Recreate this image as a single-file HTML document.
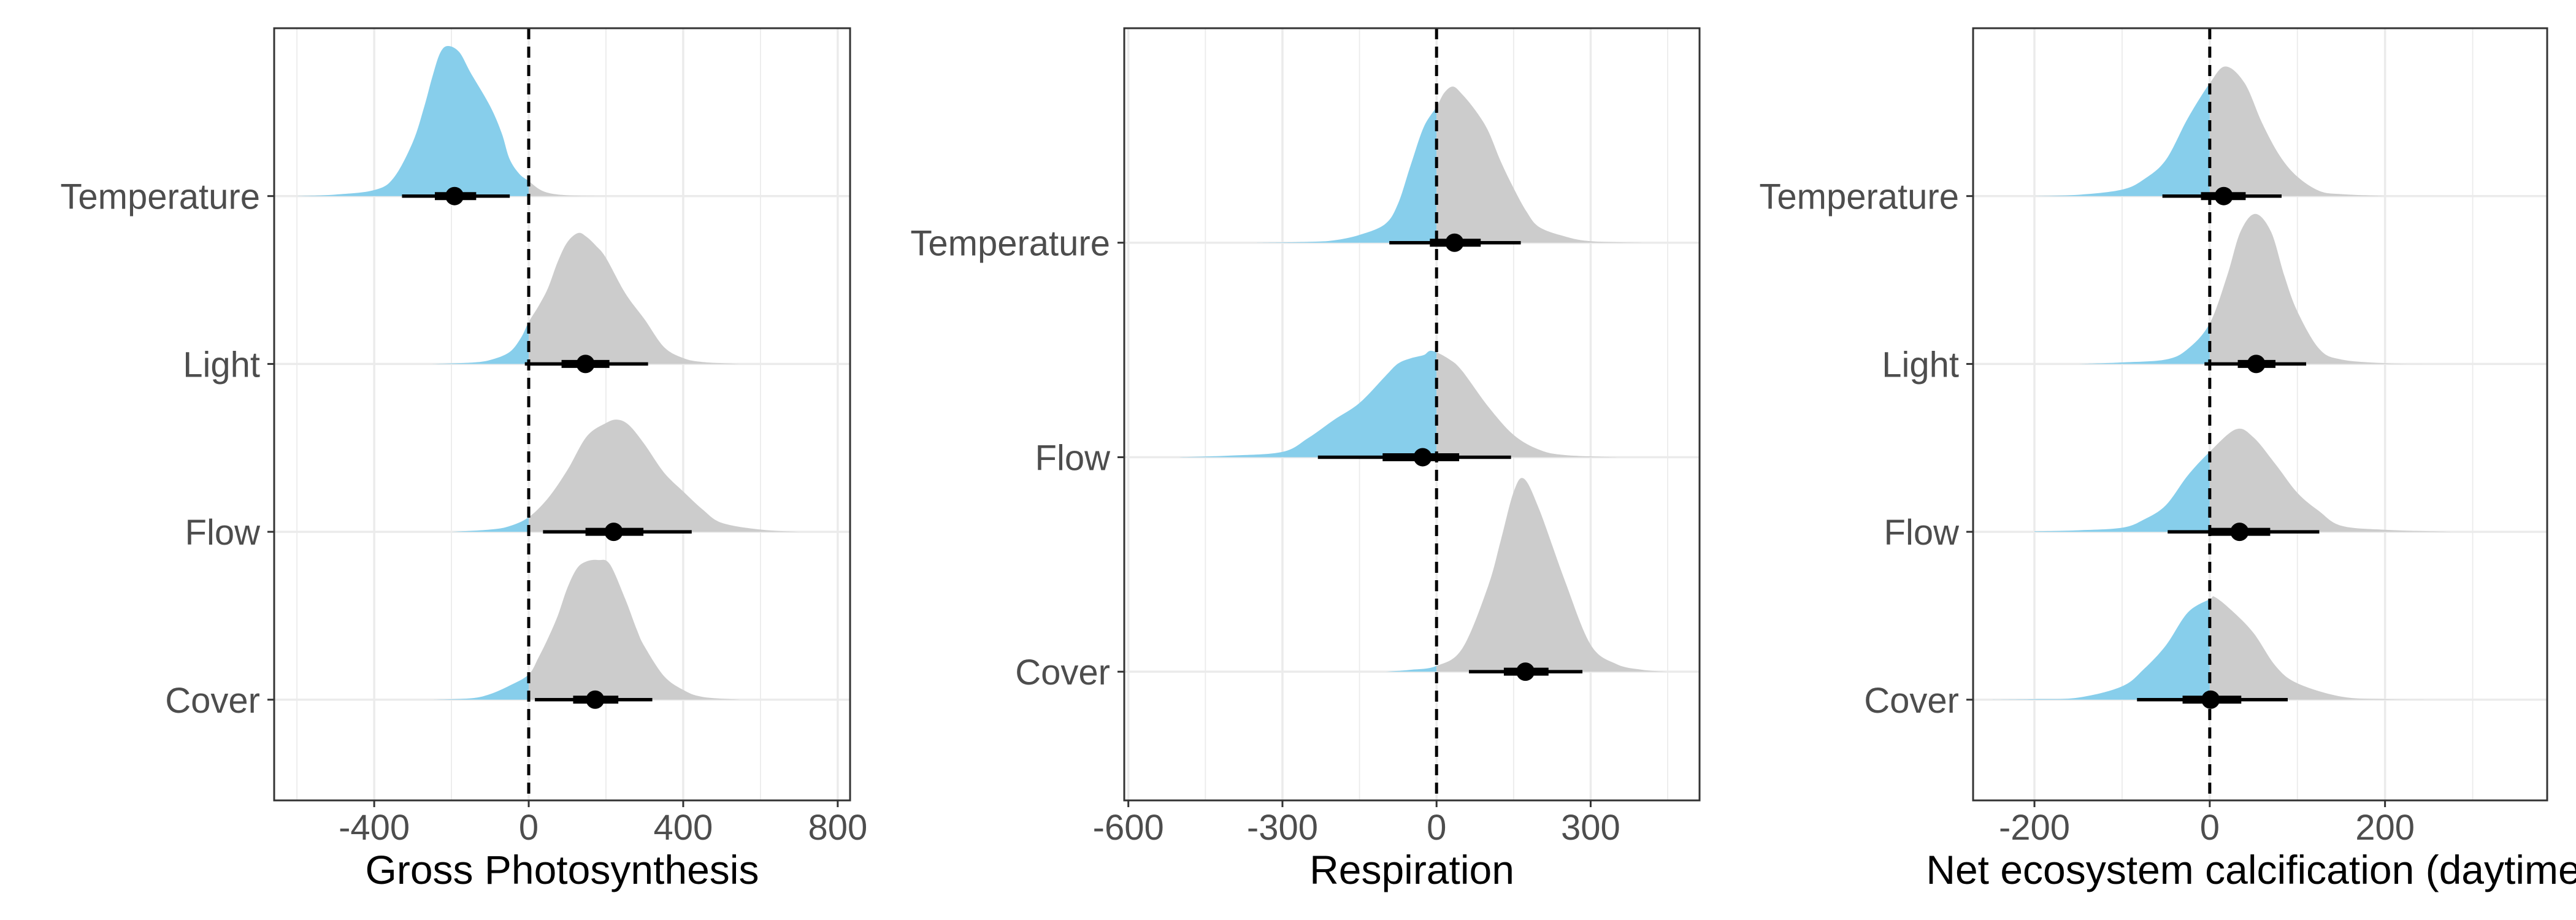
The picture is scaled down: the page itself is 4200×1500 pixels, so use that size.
<!DOCTYPE html>
<html><head><meta charset="utf-8"><style>
html,body{margin:0;padding:0;background:#fff;}
svg{display:block;font-family:"Liberation Sans",sans-serif;}
</style></head><body>
<svg id="chart" width="4200" height="1500" viewBox="0 0 4200 1500" xmlns="http://www.w3.org/2000/svg"></svg>
<script>
// ---------- DATA ----------
const p1Labels = ["Cover","Flow","Light","Temperature"];
const p1Medians = [172, 220, 147, -192];
const p1Lo66 = [115, 147, 85, -243];
const p1Hi66 = [232, 297, 209, -136];
const p1Lo95 = [16, 37, -10, -328];
const p1Hi95 = [320, 422, 309, -49];
const p1Peak = [0.832, 0.668, 0.78, 0.894];
const p1DensX = [
  [-250,-150,-100,-50,0,25,50,75,100,125,150,180,210,250,280,300,350,400,450,550],
  [-200,-100,-50,0,50,100,150,200,230,260,300,350,400,450,500,600,700],
  [-250,-150,-100,-50,-20,0,25,50,75,100,128,150,175,200,250,300,350,400,450,550],
  [-600,-500,-400,-350,-300,-270,-250,-230,-210,-180,-150,-100,-70,-50,-25,0,40,100,200]
];
const p1DensY = [
  [0,0.01,0.04,0.1,0.18,0.3,0.44,0.6,0.8,0.94,0.99,1.0,0.97,0.72,0.5,0.38,0.17,0.07,0.02,0],
  [0,0.02,0.05,0.13,0.3,0.55,0.85,0.97,1.0,0.95,0.78,0.53,0.36,0.2,0.08,0.02,0],
  [0,0.01,0.03,0.09,0.2,0.32,0.44,0.58,0.78,0.93,1.0,0.97,0.9,0.81,0.54,0.34,0.13,0.045,0.015,0],
  [0,0.01,0.04,0.12,0.36,0.6,0.79,0.95,1.0,0.96,0.82,0.6,0.42,0.25,0.15,0.1,0.03,0.005,0]
];
const p1Ticks = [-400, 0, 400, 800];
const p1TickLabels = ["-400","0","400","800"];

const p2Labels = ["Cover","Flow","Temperature"];
const p2Medians = [173, -27, 35];
const p2Lo66 = [131, -105, -13];
const p2Hi66 = [218, 44, 86];
const p2Lo95 = [63, -231, -92];
const p2Hi95 = [284, 145, 164];
const p2Peak = [0.9, 0.496, 0.728];
const p2DensX = [
  [-100,-50,0,50,100,125,150,170,200,250,300,350,400,450],
  [-500,-400,-300,-250,-200,-150,-100,-75,-50,-25,-9,25,50,100,150,200,250,350],
  [-350,-250,-200,-150,-100,-75,-50,-25,0,15,32,50,75,100,125,150,175,200,250,300,400]
];
const p2DensY = [
  [0,0.01,0.03,0.12,0.44,0.68,0.93,1.0,0.84,0.47,0.14,0.04,0.01,0],
  [0,0.015,0.05,0.18,0.35,0.51,0.76,0.88,0.93,0.96,1.0,0.92,0.81,0.48,0.21,0.07,0.02,0],
  [0,0.005,0.015,0.05,0.12,0.25,0.5,0.74,0.87,0.96,1.0,0.95,0.85,0.72,0.52,0.35,0.2,0.1,0.04,0.01,0]
];
const p2Ticks = [-600, -300, 0, 300];
const p2TickLabels = ["-600","-300","0","300"];

const p3Labels = ["Cover","Flow","Light","Temperature"];
const p3Medians = [1, 34, 53, 16];
const p3Lo66 = [-31, 1, 32, -10];
const p3Hi66 = [36, 69, 75, 41];
const p3Lo95 = [-83, -48, -6, -54];
const p3Hi95 = [89, 125, 110, 82];
const p3Peak = [0.611, 0.611, 0.894, 0.772];
const p3DensX = [
  [-250,-200,-150,-100,-75,-50,-25,0,6,25,50,75,100,150,200,250],
  [-200,-150,-100,-75,-50,-25,0,30,50,75,100,125,150,200,275],
  [-150,-100,-50,-25,0,20,35,52,70,85,100,125,150,200,250],
  [-200,-150,-100,-75,-50,-25,0,18,40,60,80,100,125,150,200]
];
const p3DensY = [
  [0,0.005,0.02,0.13,0.3,0.53,0.85,0.98,1.0,0.87,0.65,0.33,0.16,0.03,0.005,0],
  [0.005,0.015,0.04,0.12,0.26,0.55,0.78,1.0,0.92,0.66,0.38,0.2,0.06,0.02,0],
  [0,0.01,0.03,0.1,0.27,0.59,0.88,1.0,0.88,0.59,0.35,0.1,0.03,0.005,0],
  [0,0.01,0.05,0.13,0.28,0.6,0.87,1.0,0.87,0.56,0.31,0.15,0.04,0.015,0]
];
const p3Ticks = [-200, 0, 200];
const p3TickLabels = ["-200","0","200"];

// ---------- LAYOUT ----------
const NS = "http://www.w3.org/2000/svg";
const svg = document.getElementById("chart");
function mk(tag, attrs, parent){
  const e = document.createElementNS(NS, tag);
  for (const k in attrs) e.setAttribute(k, attrs[k]);
  (parent||svg).appendChild(e);
  return e;
}
const TOP = 46, BOT = 1305;

function smoothPath(pts){
  let d = "M" + pts[0][0].toFixed(1) + "," + pts[0][1].toFixed(1);
  for (let i = 0; i < pts.length - 1; i++){
    const p0 = pts[Math.max(0, i-1)], p1 = pts[i], p2 = pts[i+1], p3 = pts[Math.min(pts.length-1, i+2)];
    const c1x = p1[0] + (p2[0]-p0[0])/6, c1y = p1[1] + (p2[1]-p0[1])/6;
    const c2x = p2[0] - (p3[0]-p1[0])/6, c2y = p2[1] - (p3[1]-p1[1])/6;
    d += " C" + c1x.toFixed(1)+","+c1y.toFixed(1)+" "+c2x.toFixed(1)+","+c2y.toFixed(1)+" "+p2[0].toFixed(1)+","+p2[1].toFixed(1);
  }
  return d;
}

function panel(cfg){
  const {id, left, right, xmin, xmax, ymax, labels, med, lo66, hi66, lo95, hi95, peak, dx, dy, ticks, tickLabels, title, labelEnd} = cfg;
  const g = mk("g", {});
  
  
  const xs = v => left + (v - xmin) / (xmax - xmin) * (right - left);
  const ys = v => BOT - (v - 0.4) / (ymax - 0.4) * (BOT - TOP);
  const spacing = ys(1) - ys(2);
  const clipId = id + "-clip";
  const defs = mk("defs", {}, g);
  const cp = mk("clipPath", {id: clipId}, defs);
  mk("rect", {x:left, y:TOP, width:right-left, height:BOT-TOP}, cp);
  const cpN = mk("clipPath", {id: clipId+"n"}, defs);
  mk("rect", {x:left, y:TOP, width:xs(0)-left, height:BOT-TOP}, cpN);
  const cpP = mk("clipPath", {id: clipId+"p"}, defs);
  mk("rect", {x:xs(0), y:TOP, width:right-xs(0), height:BOT-TOP}, cpP);

  const step = ticks[1]-ticks[0];
  for (let v = Math.ceil(xmin/step)*step - step/2; v <= xmax; v += step){
    if (v < xmin) continue;
    const l = mk("line", {x1:xs(v), x2:xs(v), y1:TOP, y2:BOT, stroke:"#ebebeb", "stroke-width":1.8}, g);
    
    
  }
  ticks.forEach(v => {
    const l = mk("line", {x1:xs(v), x2:xs(v), y1:TOP, y2:BOT, stroke:"#ebebeb", "stroke-width":3.5}, g);
    
    
  });
  labels.forEach((lab, i) => {
    const y = ys(i+1);
    const l = mk("line", {x1:left, x2:right, y1:y, y2:y, stroke:"#ebebeb", "stroke-width":3.5}, g);
    
    
  });
  labels.forEach((lab, i) => {
    const y0 = ys(i+1);
    const h = peak[i] * spacing;
    const pts = dx[i].map((v, j) => [xs(v), y0 - dy[i][j]*h]);
    let d = smoothPath(pts) + " L" + xs(dx[i][dx[i].length-1]).toFixed(1) + "," + y0 + " L" + xs(dx[i][0]).toFixed(1) + "," + y0 + " Z";
    const gc = mk("g", {"clip-path":"url(#"+clipId+")"}, g);
    const a = mk("path", {d:d, fill:"#87CEEB", "clip-path":"url(#"+clipId+"n)"}, gc);
    
    
    const b = mk("path", {d:d, fill:"#cccccc", "clip-path":"url(#"+clipId+"p)"}, gc);
    
    
  });
  labels.forEach((lab, i) => {
    const y0 = ys(i+1);
    const t = mk("line", {x1:xs(lo95[i]), x2:xs(hi95[i]), y1:y0, y2:y0, stroke:"#000", "stroke-width":5.5}, g);
    
    
    const k = mk("line", {x1:xs(lo66[i]), x2:xs(hi66[i]), y1:y0, y2:y0, stroke:"#000", "stroke-width":13}, g);
    
    
    const c = mk("circle", {cx:xs(med[i]), cy:y0, r:15, fill:"#000"}, g);
    
    
    const tk = mk("line", {x1:left-11, x2:left, y1:y0, y2:y0, stroke:"#333", "stroke-width":3}, g);
    
    
    const tx = mk("text", {x:labelEnd, y:y0+21, "text-anchor":"end", "font-size":58, fill:"#4d4d4d"}, g);
    tx.textContent = lab;
    
    
  });
  const z = mk("line", {x1:xs(0), x2:xs(0), y1:TOP, y2:BOT, stroke:"#000", "stroke-width":5, "stroke-dasharray":"18,12"}, g);
  
  
  const br = mk("rect", {x:left, y:TOP, width:right-left, height:BOT-TOP, fill:"none", stroke:"#333", "stroke-width":3}, g);
  
  
  ticks.forEach((v, i) => {
    const l = mk("line", {x1:xs(v), x2:xs(v), y1:BOT, y2:BOT+11, stroke:"#333", "stroke-width":3}, g);
    
    
    const tx = mk("text", {x:xs(v), y:1369, "text-anchor":"middle", "font-size":58, fill:"#4d4d4d"}, g);
    tx.textContent = tickLabels[i];
    
    
  });
  const tt = mk("text", {x:(left+right)/2, y:1441, "text-anchor":"middle", "font-size":66, fill:"#000"}, g);
  tt.textContent = title;
  
  
}

panel({id:"gross-photosynthesis", left:447, right:1386, xmin:-659, xmax:832, ymax:5.0,
  labels:p1Labels, med:p1Medians, lo66:p1Lo66, hi66:p1Hi66, lo95:p1Lo95, hi95:p1Hi95, peak:p1Peak,
  dx:p1DensX, dy:p1DensY, ticks:p1Ticks, tickLabels:p1TickLabels, title:"Gross Photosynthesis", labelEnd:424});
panel({id:"respiration", left:1833, right:2771, xmin:-608, xmax:512, ymax:4.0,
  labels:p2Labels, med:p2Medians, lo66:p2Lo66, hi66:p2Hi66, lo95:p2Lo95, hi95:p2Hi95, peak:p2Peak,
  dx:p2DensX, dy:p2DensY, ticks:p2Ticks, tickLabels:p2TickLabels, title:"Respiration", labelEnd:1810});
panel({id:"net-calcification", left:3217, right:4153, xmin:-270, xmax:385, ymax:5.0,
  labels:p3Labels, med:p3Medians, lo66:p3Lo66, hi66:p3Hi66, lo95:p3Lo95, hi95:p3Hi95, peak:p3Peak,
  dx:p3DensX, dy:p3DensY, ticks:p3Ticks, tickLabels:p3TickLabels, title:"Net ecosystem calcification (daytime)", labelEnd:3194});
</script>
</body></html>
